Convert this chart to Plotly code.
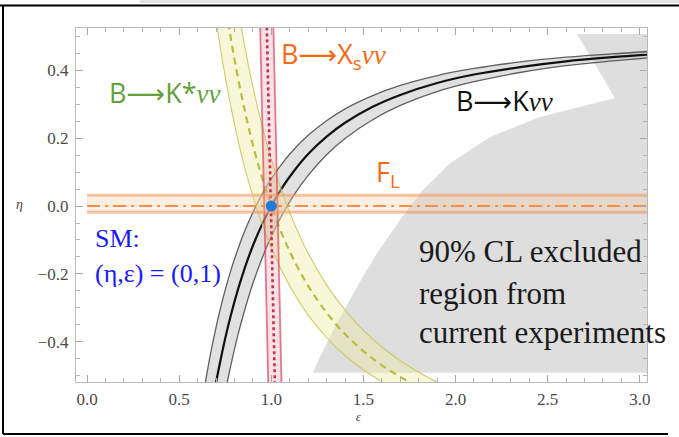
import plotly.graph_objects as go

# ---------------- data ----------------
# B -> K nu nu : central curve and 1-sigma band edges (eps, eta)
k_eps = [0.62, 0.65, 0.68, 0.70, 0.72, 0.75, 0.78, 0.82, 0.86, 0.90, 0.95, 1.00, 1.06,
         1.12, 1.20, 1.30, 1.40, 1.55, 1.70, 1.90, 2.10, 2.35, 2.60, 2.85, 3.10]
k_eta = [-0.801, -0.683, -0.581, -0.520, -0.465, -0.389, -0.322, -0.244, -0.176, -0.117,
         -0.054, 0.000, 0.055, 0.101, 0.153, 0.204, 0.245, 0.292, 0.327, 0.362, 0.387,
         0.409, 0.426, 0.438, 0.448]
k_eta_up = [-0.593, -0.494, -0.408, -0.357, -0.310, -0.247, -0.190, -0.125, -0.068, -0.019,
            0.035, 0.080, 0.126, 0.165, 0.208, 0.251, 0.286, 0.325, 0.355, 0.384, 0.405,
            0.424, 0.438, 0.448, 0.456]
k_eta_dn = [-1.035, -0.896, -0.776, -0.704, -0.638, -0.549, -0.470, -0.377, -0.298, -0.228,
            -0.154, -0.090, -0.025, 0.030, 0.090, 0.151, 0.199, 0.254, 0.296, 0.337, 0.366,
            0.393, 0.413, 0.427, 0.439]

# B -> K* nu nu
ks_eps = [0.66, 0.70, 0.74, 0.78, 0.82, 0.86, 0.90, 0.95, 1.00, 1.06, 1.12, 1.20, 1.30,
          1.40, 1.50, 1.60, 1.70, 1.80, 1.90, 2.00]
ks_eta = [0.997, 0.801, 0.635, 0.495, 0.375, 0.271, 0.180, 0.083, 0.000, -0.085, -0.156,
          -0.235, -0.314, -0.377, -0.427, -0.469, -0.503, -0.532, -0.556, -0.577]
ks_eta_lo = [0.714, 0.549, 0.411, 0.293, 0.192, 0.104, 0.029, -0.053, -0.123, -0.194,
             -0.254, -0.321, -0.387, -0.440, -0.482, -0.517, -0.546, -0.570, -0.590, -0.608]
ks_eta_hi = [1.315, 1.083, 0.888, 0.723, 0.581, 0.458, 0.351, 0.236, 0.138, 0.039, -0.046,
             -0.139, -0.232, -0.306, -0.366, -0.415, -0.455, -0.489, -0.518, -0.542]

# B -> Xs nu nu (nearly vertical band)
xs_eta = [-0.56, 0.00, 0.56]
xs_eps = [1.021, 0.998, 0.974]
xs_eps_lo = [0.985, 0.962, 0.938]
xs_eps_hi = [1.057, 1.034, 1.010]

# F_L (horizontal band)
fl_eps = [0.0, 3.10]
fl_eta = [0.0, 0.0]
fl_eta_hi = 0.032
fl_eta_lo = -0.018

# 90% CL excluded region boundary
ex_eps = [2.659, 3.10, 3.10, 1.226, 1.264, 1.356, 1.465, 1.574, 1.698, 1.823, 1.970,
          2.187, 2.458, 2.865, 2.659]
ex_eta = [0.506, 0.506, -0.491, -0.491, -0.444, -0.344, -0.238, -0.138, -0.041, 0.047,
          0.126, 0.203, 0.262, 0.318, 0.506]

# Standard Model point
sm_eps = [1.0]
sm_eta = [0.0]

# axis settings
x_range = [-0.06, 3.039]
y_range = [-0.518, 0.524]

# ---------------- figure ----------------
fig = go.Figure()

# excluded region
fig.add_trace(go.Scatter(x=ex_eps, y=ex_eta, fill="toself", mode="lines",
                         line=dict(width=0), fillcolor="#dedede", hoverinfo="skip"))

# B -> K nu nu band
fig.add_trace(go.Scatter(x=k_eps + k_eps[::-1], y=k_eta_up + k_eta_dn[::-1],
                         fill="toself", mode="lines", line=dict(width=0),
                         fillcolor="rgba(200,200,200,0.55)", line_shape="spline"))
for edge in (k_eta_up, k_eta_dn):
    fig.add_trace(go.Scatter(x=k_eps, y=edge, mode="lines", line_shape="spline",
                             line=dict(color="rgba(70,70,70,0.85)", width=1.3)))
fig.add_trace(go.Scatter(x=k_eps, y=k_eta, mode="lines", line_shape="spline",
                         line=dict(color="#111111", width=2.2)))

# B -> K* nu nu band
fig.add_trace(go.Scatter(x=ks_eps + ks_eps[::-1], y=ks_eta_lo + ks_eta_hi[::-1],
                         fill="toself", mode="lines", line=dict(width=0),
                         fillcolor="rgba(235,235,160,0.40)", line_shape="spline"))
for edge in (ks_eta_lo, ks_eta_hi):
    fig.add_trace(go.Scatter(x=ks_eps, y=edge, mode="lines", line_shape="spline",
                             line=dict(color="rgba(200,200,90,0.9)", width=1.1)))
fig.add_trace(go.Scatter(x=ks_eps, y=ks_eta, mode="lines", line_shape="spline",
                         line=dict(color="#b9bd3c", width=2.2, dash="7px,5px")))

# B -> Xs nu nu band
fig.add_trace(go.Scatter(x=xs_eps_lo + xs_eps_hi[::-1], y=xs_eta + xs_eta[::-1],
                         fill="toself", mode="lines", line=dict(width=0),
                         fillcolor="rgba(235,150,165,0.28)"))
for edge in (xs_eps_lo, xs_eps_hi):
    fig.add_trace(go.Scatter(x=edge, y=xs_eta, mode="lines",
                             line=dict(color="rgba(215,70,95,0.7)", width=1.8)))
fig.add_trace(go.Scatter(x=xs_eps, y=xs_eta, mode="lines",
                         line=dict(color="#c8304c", width=2.6, dash="dot")))

# F_L band
fig.add_trace(go.Scatter(x=fl_eps + fl_eps[::-1],
                         y=[fl_eta_hi, fl_eta_hi, fl_eta_lo, fl_eta_lo],
                         fill="toself", mode="lines", line=dict(width=0),
                         fillcolor="rgba(250,200,160,0.30)"))
for lvl in (fl_eta_hi, fl_eta_lo):
    fig.add_trace(go.Scatter(x=fl_eps, y=[lvl, lvl], mode="lines",
                             line=dict(color="rgba(240,150,95,0.55)", width=3)))
fig.add_trace(go.Scatter(x=fl_eps, y=fl_eta, mode="lines",
                         line=dict(color="#f0904c", width=2, dash="13px,5px,3px,5px")))

# SM point
fig.add_trace(go.Scatter(x=sm_eps, y=sm_eta, mode="markers",
                         marker=dict(color="#1f7bd6", size=11)))

tick_font = dict(family="Liberation Serif", size=17, color="#4a4a4a")
axis_common = dict(showline=True, linecolor="#b8b8b8", linewidth=1, mirror="allticks",
                   ticks="inside", ticklen=7, tickcolor="#a8a8a8", tickwidth=1,
                   showgrid=False, zeroline=False, tickformat=".1f", tickfont=tick_font)

fig.update_xaxes(range=x_range, tick0=0, dtick=0.5, ticklabelstandoff=2,
                 minor=dict(dtick=0.1, ticklen=4, tickcolor="#b4b4b4", ticks="inside"),
                 **axis_common)
fig.update_yaxes(range=y_range, tick0=0, dtick=0.2, ticklabelstandoff=3,
                 minor=dict(dtick=0.05, ticklen=4, tickcolor="#b4b4b4", ticks="inside"),
                 **axis_common)

sans = "Open Sans"
arrow = '<span style="font-family:DejaVu Sans">⟶</span>'
nu = '<span style="font-family:Liberation Serif"><i>νν</i></span>'
ann = [
    dict(x=0.423, y=0.335, text="B" + arrow + "K*" + nu, font=dict(family=sans, size=27, color="#63a13c")),
    dict(x=1.34, y=0.444, text="B" + arrow + "X<sub>s</sub>" + nu, font=dict(family=sans, size=27, color="#f96a10")),
    dict(x=2.268, y=0.312, text="B" + arrow + "K" + nu, font=dict(family=sans, size=27, color="#111111")),
    dict(x=1.633, y=0.095, text="F<sub>L</sub>", font=dict(family=sans, size=27, color="#f96a10")),
]
for a in ann:
    fig.add_annotation(xref="x", yref="y", showarrow=False, xanchor="center",
                       yanchor="middle", **a)

serif = "Liberation Serif"
blue_lines = ["SM:", "(η,ε) = (0,1)"]
blue_y = [238, 273]
for txt, py in zip(blue_lines, blue_y):
    fig.add_annotation(xref="paper", yref="paper", x=(93 - 76) / 571, y=(382 - py) / 354,
                       text=txt, showarrow=False, xanchor="left", yanchor="middle",
                       font=dict(family=serif, size=26, color="#1a1aff"))

excl_lines = ["90% CL excluded", "region from", "current experiments"]
excl_y = [252, 293, 332]
for txt, py in zip(excl_lines, excl_y):
    fig.add_annotation(xref="paper", yref="paper", x=(417 - 76) / 571, y=(382 - py) / 354,
                       text=txt, showarrow=False, xanchor="left", yanchor="middle",
                       font=dict(family=serif, size=31, color="#1a1a1a"))

# axis symbols
fig.add_annotation(xref="paper", yref="paper", x=(14 - 76) / 571, y=(382 - 204) / 354,
                   text="<i>η</i>", showarrow=False, font=dict(family=serif, size=14, color="#444"))
fig.add_annotation(xref="paper", yref="paper", x=(358 - 76) / 571, y=(382 - 425) / 354,
                   text="<i>ε</i>", showarrow=False, borderpad=0,
                   font=dict(family=serif, size=12, color="#444"))

# surrounding box (top, left, bottom)
box = dict(type="line", xref="paper", yref="paper", line=dict(color="black", width=2))
fig.add_shape(x0=-0.2, x1=1.2, y0=(382 - 5.5) / 354, y1=(382 - 5.5) / 354, **box)
fig.add_shape(x0=(3 - 76) / 571, x1=(3 - 76) / 571, y0=(382 - 5.5) / 354, y1=(382 - 434) / 354, **box)
fig.add_shape(x0=(3 - 76) / 571, x1=(668 - 76) / 571, y0=(382 - 434) / 354, y1=(382 - 434) / 354, **box)
fig.add_shape(type="line", xref="paper", yref="paper", x0=(140 - 76) / 571, x1=1.2,
              y0=(382 - 1.5) / 354, y1=(382 - 1.5) / 354, line=dict(color="#e4e4e4", width=3))

fig.update_layout(width=679, height=437, margin=dict(l=76, r=32, t=28, b=55),
                  paper_bgcolor="white", plot_bgcolor="white", showlegend=False)

fig.write_html("out.html")
